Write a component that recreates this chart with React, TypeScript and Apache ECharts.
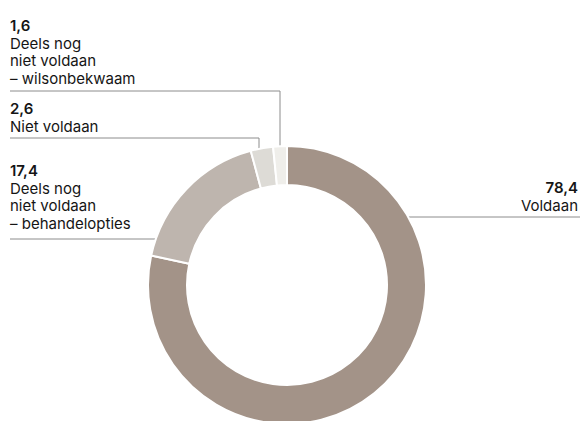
import React, { useEffect, useRef } from "react";
import * as echarts from "echarts";

const categories = [
  "Voldaan",
  "Deels nog\nniet voldaan\n– behandelopties",
  "Niet voldaan",
  "Deels nog\nniet voldaan\n– wilsonbekwaam",
];
const values = [78.4, 17.4, 2.6, 1.6];
const colors = ["#a39388", "#beb5ae", "#dddbd6", "#efeeea"];

const CX = 287;
const CY = 285;
const R_OUT = 139;
const R_IN = 100;

const ringTopY = (x: number) => CY - Math.sqrt(R_OUT * R_OUT - (x - CX) * (x - CX));
const ringX = (y: number, side: number) => CX + side * Math.sqrt(R_OUT * R_OUT - (y - CY) * (y - CY));

const layouts: any[] = [
  { x: 578, y: 179, align: "right", line: () => [[ringX(217, 1), 217], [495, 217], [580, 217]] },
  { x: 10, y: 162, align: "left", line: () => [[ringX(239, -1) + 1, 239], [80, 239], [10, 239]] },
  { x: 10, y: 100, align: "left", line: () => [[259, ringTopY(259) + 1], [259, 138], [10, 138]] },
  { x: 10, y: 17, align: "left", line: () => [[280, ringTopY(280) + 1], [280, 91], [10, 91]] },
];

export default function App() {
  const ref = useRef<HTMLDivElement>(null);
  useEffect(() => {
    if (!ref.current) return;
    const chart = echarts.init(ref.current, null, { renderer: "svg" });
    const font = "Inter, 'Noto Sans', sans-serif";
    chart.setOption({
      animation: false,
      backgroundColor: "#ffffff",
      series: [
        {
          type: "pie",
          center: [CX, CY],
          radius: [R_IN, R_OUT],
          startAngle: 90,
          clockwise: true,
          avoidLabelOverlap: false,
          itemStyle: { borderColor: "#ffffff", borderWidth: 2 },
          label: {
            show: true,
            position: "outside",
            fontFamily: font,
            color: "#151515",
            formatter: (p: any) => {
              const v = String(p.value.toFixed(1)).replace(".", ",");
              const lines = String(p.name)
                .split("\n")
                .map((l) => `{t|${l}}`)
                .join("\n");
              return `{v|${v}}\n${lines}`;
            },
            rich: {
              v: { fontSize: 15, fontWeight: 600, lineHeight: 17.5, fontFamily: font, color: "#151515" },
              t: { fontSize: 15, fontWeight: 400, lineHeight: 17.5, fontFamily: font, color: "#151515" },
            },
          },
          labelLine: {
            show: true,
            lineStyle: { color: "#8c8c8c", width: 1 },
          },
          labelLayout: (params: any) => {
            const l = layouts[params.dataIndex];
            return {
              x: l.x,
              y: l.y,
              align: l.align,
              verticalAlign: "top",
              labelLinePoints: l.line(),
            };
          },
          data: categories.map((name, i) => ({
            name,
            value: values[i],
            itemStyle: { color: colors[i] },
          })),
        },
      ],
    });
    return () => chart.dispose();
  }, []);
  return (
    <div
      ref={ref}
      style={{ position: "fixed", left: 0, top: 0, width: 580, height: 421 }}
    />
  );
}
